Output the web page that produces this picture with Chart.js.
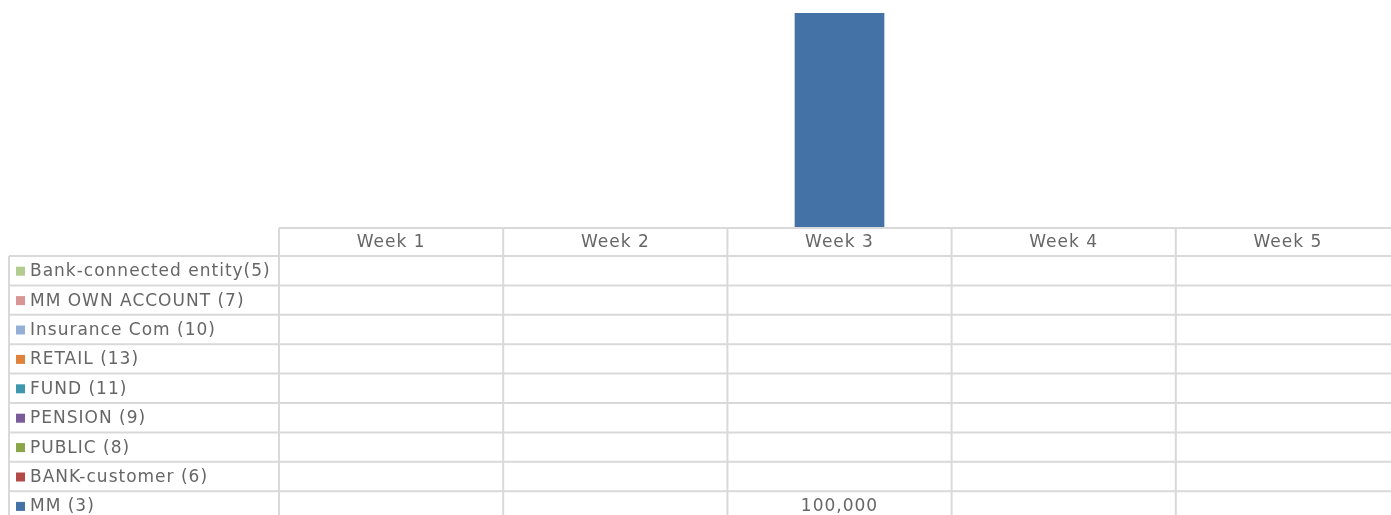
<!DOCTYPE html>
<html>
<head>
<meta charset="utf-8">
<script src="https://cdn.jsdelivr.net/npm/chart.js@4"></script>
<style>
html,body{margin:0;padding:0;background:#fff;overflow:hidden;}
#wrap{width:1400px;height:515px;position:relative;}
</style>
</head>
<body>
<div id="wrap"><canvas id="c"></canvas></div>
<script>
const categories = ["Week 1","Week 2","Week 3","Week 4","Week 5"];
const seriesNames = ["Bank-connected entity(5)","MM OWN ACCOUNT (7)","Insurance Com (10)","RETAIL (13)","FUND (11)","PENSION (9)","PUBLIC (8)","BANK-customer (6)","MM (3)"];
const bankConnected = [null,null,null,null,null];
const mmOwnAccount = [null,null,null,null,null];
const insuranceCom = [null,null,null,null,null];
const retail = [null,null,null,null,null];
const fund = [null,null,null,null,null];
const pension = [null,null,null,null,null];
const publicSeries = [null,null,null,null,null];
const bankCustomer = [null,null,null,null,null];
const mm = [null,null,100000,null,null];
const seriesColors = ["#b3cc8f","#d99694","#95b0d6","#e0823c","#3f97ae","#7a5b9a","#8aa54a","#b24a47","#4472a7"];

const allValues = [bankConnected,mmOwnAccount,insuranceCom,retail,fund,pension,publicSeries,bankCustomer,mm];

const FONT = "DejaVu Sans";
const GRID = "#d9d9d9";
const TXT = "#666666";

const dataTablePlugin = {
  id: 'dataTable',
  afterDraw(chart) {
    const ctx = chart.ctx;
    const xs = chart.scales.x;
    const ca = chart.chartArea;
    const top = ca.bottom;
    const headerH = 28;
    const rowH = 29.4;
    const leftX = 9;
    const n = categories.length;
    const step = n > 1 ? xs.getPixelForValue(1) - xs.getPixelForValue(0) : ca.right - ca.left;
    const colEdges = [];
    for (let i = 0; i <= n; i++) colEdges.push(xs.getPixelForValue(0) - step/2 + i*step);
    const rows = seriesNames.length;
    const tableBottom = top + headerH + rows*rowH;
    ctx.save();
    ctx.strokeStyle = GRID;
    ctx.lineWidth = 2;
    ctx.beginPath();
    ctx.moveTo(colEdges[0], top); ctx.lineTo(colEdges[n], top);
    for (let r = 0; r <= rows; r++) {
      const y = top + headerH + r*rowH;
      ctx.moveTo(leftX, y); ctx.lineTo(colEdges[n], y);
    }
    for (let i = 0; i <= n; i++) {
      ctx.moveTo(colEdges[i], top); ctx.lineTo(colEdges[i], tableBottom);
    }
    ctx.moveTo(leftX, top + headerH); ctx.lineTo(leftX, tableBottom);
    ctx.stroke();

    ctx.fillStyle = TXT;
    ctx.font = "17px '" + FONT + "'";
    if ('letterSpacing' in ctx) ctx.letterSpacing = "1px";
    ctx.textBaseline = "middle";
    ctx.textAlign = "center";
    for (let i = 0; i < n; i++) {
      ctx.fillText(categories[i], xs.getPixelForValue(i), top + headerH/2 + 1);
    }
    const fmt = new Intl.NumberFormat('en-US');
    for (let r = 0; r < rows; r++) {
      const yc = top + headerH + r*rowH + rowH/2 + 1;
      ctx.fillStyle = seriesColors[r];
      ctx.fillRect(16, yc - 5, 9, 9);
      ctx.fillStyle = TXT;
      ctx.textAlign = "left";
      ctx.fillText(seriesNames[r], 30, yc);
      ctx.textAlign = "center";
      const vals = allValues[r];
      for (let i = 0; i < n; i++) {
        if (vals[i] !== null && vals[i] !== undefined) {
          ctx.fillText(fmt.format(vals[i]), xs.getPixelForValue(i), yc);
        }
      }
    }
    ctx.restore();
  }
};

const datasets = seriesNames.map((name, i) => ({
  label: name,
  data: allValues[i],
  backgroundColor: seriesColors[i],
  borderWidth: 0,
  categoryPercentage: 1.0,
  barPercentage: 0.4
})).reverse();

new Chart(document.getElementById('c'), {
  type: 'bar',
  data: { labels: categories, datasets: datasets },
  options: {
    responsive: true,
    maintainAspectRatio: false,
    animation: false,
    layout: { padding: { left: 279, right: 0, top: 13, bottom: 287 } },
    plugins: { legend: { display: false }, tooltip: { enabled: false } },
    scales: {
      x: { stacked: true, display: false, offset: true },
      y: { stacked: true, display: false, min: 0, max: 100000 }
    }
  },
  plugins: [dataTablePlugin]
});
</script>
</body>
</html>
